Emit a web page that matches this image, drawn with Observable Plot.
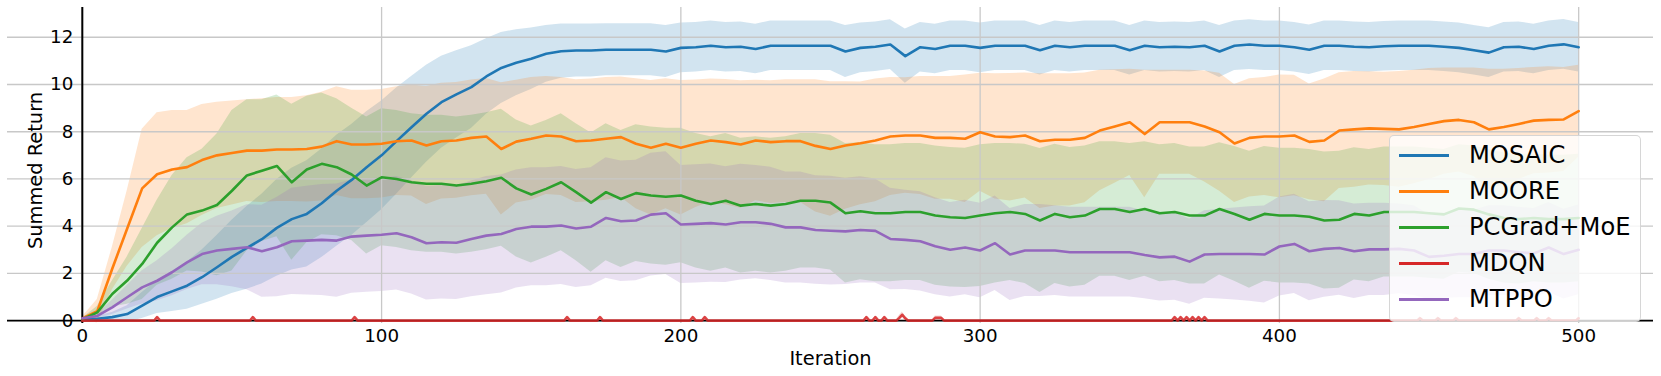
<!DOCTYPE html>
<html><head><meta charset="utf-8">
<script src="https://cdn.jsdelivr.net/npm/d3@7"></script>
<script src="https://cdn.jsdelivr.net/npm/@observablehq/plot@0.6"></script>
<style>
body{margin:0;background:#fff;}
#wrap{position:relative;width:1661px;height:376px;font-family:"DejaVu Sans",sans-serif;}
#legend{position:absolute;left:1389px;top:135px;width:252px;height:187px;box-sizing:border-box;background:rgba(255,255,255,0.8);border:1px solid rgba(204,204,204,0.8);border-radius:5px;}
.sw{position:absolute;left:9px;width:50px;height:3px;}
.lbl{position:absolute;left:79px;font-size:24.2px;line-height:30px;height:30px;white-space:nowrap;color:#000;}
</style></head>
<body><div id="wrap"></div>
<script>
const iters = [0,5,10,15,20,25,30,35,40,45,50,55,60,65,70,75,80,85,90,95,100,105,110,115,120,125,130,135,140,145,150,155,160,165,170,175,180,185,190,195,200,205,210,215,220,225,230,235,240,245,250,255,260,265,270,275,280,285,290,295,300,305,310,315,320,325,330,335,340,345,350,355,360,365,370,375,380,385,390,395,400,405,410,415,420,425,430,435,440,445,450,455,460,465,470,475,480,485,490,495,500];

const mosaicMean = [0.05,0.08,0.15,0.28,0.64,1.0,1.24,1.48,1.84,2.26,
2.7,3.08,3.45,3.93,4.3,4.52,4.97,5.5,5.96,6.5,
7.0,7.6,8.19,8.76,9.25,9.58,9.89,10.34,10.7,10.92,
11.09,11.3,11.41,11.44,11.44,11.47,11.47,11.47,11.47,11.4,
11.55,11.58,11.64,11.58,11.6,11.5,11.64,11.64,11.64,11.64,
11.64,11.4,11.55,11.6,11.69,11.2,11.58,11.5,11.64,11.64,
11.55,11.64,11.64,11.64,11.45,11.64,11.58,11.64,11.64,11.64,
11.45,11.64,11.58,11.6,11.58,11.64,11.4,11.64,11.69,11.64,
11.64,11.58,11.47,11.64,11.64,11.6,11.58,11.62,11.64,11.64,
11.64,11.6,11.55,11.45,11.35,11.58,11.6,11.5,11.64,11.7,
11.58];
const mosaicSd = [0.1,0.12,0.2,0.35,0.55,0.7,0.85,1.0,1.15,1.35,
1.55,1.75,1.9,2.05,2.15,2.25,2.3,2.35,2.35,2.35,
2.3,2.25,2.15,2.05,1.95,1.85,1.75,1.6,1.5,1.4,
1.3,1.2,1.15,1.12,1.12,1.1,1.1,1.1,1.1,1.1,
1.05,1.05,1.05,1.05,1.05,1.05,1.05,1.05,1.05,1.05,
1.05,1.1,1.05,1.05,1.05,1.15,1.05,1.05,1.05,1.05,
1.05,1.05,1.05,1.05,1.05,1.05,1.05,1.05,1.05,1.05,
1.05,1.05,1.05,1.05,1.05,1.05,1.1,1.05,1.05,1.05,
1.05,1.05,1.05,1.05,1.05,1.05,1.05,1.05,1.05,1.05,
1.05,1.05,1.05,1.05,1.05,1.05,1.05,1.05,1.05,1.05,
1.05];

const mooreMean = [0.1,0.4,2.2,3.9,5.6,6.2,6.4,6.5,6.8,7.0,
7.1,7.2,7.2,7.25,7.25,7.27,7.37,7.6,7.46,7.46,
7.49,7.6,7.63,7.42,7.6,7.63,7.74,7.8,7.27,7.58,
7.7,7.84,7.8,7.6,7.63,7.7,7.77,7.49,7.32,7.49,
7.32,7.49,7.63,7.56,7.46,7.63,7.56,7.6,7.6,7.4,
7.27,7.42,7.51,7.63,7.8,7.84,7.84,7.74,7.74,7.7,
7.98,7.8,7.77,7.84,7.6,7.66,7.66,7.74,8.05,8.22,
8.4,7.9,8.4,8.4,8.4,8.22,7.98,7.5,7.74,7.8,
7.8,7.84,7.57,7.63,8.05,8.1,8.14,8.12,8.1,8.2,
8.33,8.45,8.5,8.4,8.1,8.2,8.33,8.47,8.5,8.52,
8.87];
const mooreSd = [0.05,0.5,0.9,1.6,2.5,2.6,2.5,2.4,2.35,2.25,
2.2,2.15,2.2,2.2,2.2,2.25,2.3,2.3,2.3,2.3,
2.3,2.3,2.35,2.5,2.45,2.45,2.45,2.45,2.8,2.6,
2.6,2.5,2.5,2.6,2.6,2.6,2.55,2.75,2.85,2.75,
2.85,2.7,2.6,2.65,2.7,2.55,2.6,2.6,2.6,2.8,
2.85,2.7,2.6,2.6,2.5,2.45,2.5,2.6,2.6,2.7,
2.5,2.65,2.7,2.65,2.85,2.8,2.8,2.75,2.55,2.4,
2.25,2.7,2.2,2.2,2.2,2.35,2.5,2.5,2.5,2.5,
2.6,2.55,2.45,2.6,2.45,2.45,2.4,2.4,2.45,2.4,
2.35,2.25,2.2,2.3,2.55,2.45,2.35,2.25,2.25,2.2,
1.95];

const pcgradMean = [0.05,0.35,1.13,1.7,2.4,3.3,3.95,4.5,4.66,4.9,
5.5,6.15,6.35,6.55,5.86,6.4,6.64,6.5,6.19,5.72,
6.07,6.0,5.86,5.8,5.8,5.72,5.8,5.9,6.05,5.6,
5.34,5.58,5.86,5.44,5.0,5.44,5.15,5.4,5.3,5.25,
5.3,5.08,4.94,5.08,4.87,4.94,4.87,4.94,5.08,5.08,
5.0,4.55,4.63,4.55,4.55,4.6,4.6,4.45,4.38,4.35,
4.45,4.55,4.6,4.52,4.24,4.52,4.38,4.45,4.73,4.73,
4.6,4.73,4.55,4.6,4.45,4.45,4.73,4.52,4.27,4.52,
4.45,4.45,4.4,4.24,4.27,4.52,4.45,4.6,4.6,4.6,
4.55,4.5,4.75,4.7,4.5,4.35,4.3,4.35,4.3,4.3,
4.35];
const pcgradSd = [0.05,0.25,0.55,1.0,1.5,1.8,2.2,2.4,2.6,3.0,
3.4,3.2,3.0,3.0,3.3,3.1,3.0,2.9,2.8,2.9,
2.9,2.9,2.9,2.9,2.9,2.9,2.9,2.9,2.9,2.9,
2.9,2.9,2.9,2.9,2.95,2.9,2.9,2.9,2.9,2.9,
2.85,2.85,2.85,2.85,2.85,2.85,2.85,2.85,2.85,2.85,
2.85,2.95,2.9,2.9,2.9,2.9,2.9,2.95,2.95,2.95,
3.0,2.95,2.9,2.95,3.05,2.95,2.95,2.95,2.85,2.85,
2.9,2.85,2.9,2.9,2.9,2.9,2.8,2.85,2.9,2.85,
2.85,2.85,2.85,2.9,2.9,2.8,2.8,2.75,2.75,2.75,
2.75,2.75,2.7,2.7,2.75,2.75,2.75,2.7,2.7,2.7,
2.7];

const mtppoMean = [0.1,0.2,0.56,0.99,1.41,1.69,2.05,2.47,2.82,2.97,
3.04,3.11,2.94,3.11,3.36,3.39,3.42,3.39,3.56,3.6,
3.64,3.7,3.53,3.28,3.32,3.3,3.46,3.6,3.67,3.88,
3.98,3.98,4.03,3.9,3.98,4.35,4.21,4.24,4.49,4.55,
4.07,4.1,4.13,4.07,4.17,4.17,4.1,3.95,3.95,3.84,
3.81,3.78,3.84,3.8,3.46,3.42,3.36,3.15,3.0,3.1,
2.97,3.28,2.8,2.97,2.97,2.97,2.9,2.9,2.9,2.9,
2.9,2.78,2.68,2.71,2.5,2.8,2.82,2.82,2.82,2.8,
3.14,3.25,2.94,3.04,3.08,2.94,3.02,3.02,3.04,2.97,
2.7,2.75,2.82,2.82,2.97,2.97,2.9,2.85,3.1,2.82,
3.0];
const mtppoSd = [0.05,0.1,0.3,0.5,0.7,0.85,1.0,1.15,1.3,1.45,
1.6,1.8,1.95,2.1,2.25,2.3,2.35,2.4,2.4,2.4,
2.4,2.4,2.4,2.4,2.4,2.4,2.45,2.5,2.5,2.5,
2.5,2.5,2.5,2.5,2.5,2.55,2.55,2.55,2.6,2.6,
2.5,2.5,2.5,2.45,2.45,2.4,2.4,2.35,2.35,2.3,
2.3,2.25,2.25,2.2,2.15,2.1,2.1,2.05,2.0,2.0,
2.0,2.0,1.95,1.95,1.95,1.9,1.9,1.9,1.9,1.9,
1.9,1.85,1.85,1.85,1.8,1.85,1.9,1.95,2.0,2.05,
2.1,2.1,2.1,2.05,2.0,2.0,1.95,1.95,1.9,1.9,
1.8,1.8,1.85,1.85,1.9,1.9,1.9,1.9,1.9,1.9,
1.9];

const mdqnIter = [0,24,25,26,56,57,58,90,91,92,161,162,163,172,173,174,203,204,205,207,208,209,
261,262,263,264,265,266,267,268,269,272,273,274,275,276,284,285,286,287,288,
364,365,366,367,368,369,370,371,372,373,374,375,376,
446,447,448,452,453,454,458,459,460,479,480,481,485,486,487,489,490,491,499,500];
const mdqnMean = [0,0,0.15,0,0,0.15,0,0,0.15,0,0,0.15,0,0,0.15,0,0,0.15,0,0,0.15,0,
0,0.15,0,0,0.15,0,0,0.15,0,0,0.12,0.25,0.1,0,0,0.12,0.12,0.12,0,
0,0.15,0,0.15,0,0.15,0,0.15,0,0.15,0,0.15,0,
0,0.1,0,0,0.1,0,0,0.1,0,0,0.1,0,0,0.1,0,0,0.1,0,0,0.1];
const mdqnSd = [0.02,0.02,0.05,0.02,0.02,0.05,0.02,0.02,0.05,0.02,0.02,0.05,0.02,0.02,0.05,0.02,0.02,0.05,0.02,0.02,0.05,0.02,
0.02,0.05,0.02,0.02,0.05,0.02,0.02,0.05,0.02,0.03,0.1,0.12,0.08,0.03,0.03,0.08,0.08,0.08,0.03,
0.02,0.05,0.02,0.05,0.02,0.05,0.02,0.05,0.02,0.05,0.02,0.05,0.02,
0.02,0.08,0.02,0.02,0.08,0.02,0.02,0.08,0.02,0.02,0.08,0.02,0.02,0.08,0.02,0.02,0.08,0.02,0.02,0.08];

const methods = ["MOSAIC","MOORE","PCGrad+MoE","MDQN","MTPPO"];
const colors = ["#1f77b4","#ff7f0e","#2ca02c","#d62728","#9467bd"];
const xTicks = [0,100,200,300,400,500];
const yTicks = [0,2,4,6,8,10,12];
const xLabel = "Iteration";
const yLabel = "Summed Return";

function rows(xs, m, s) {
  return xs.map((x, i) => ({x, y: m[i], lo: m[i] - s[i], hi: m[i] + s[i]}));
}
const series = [
  rows(iters, mosaicMean, mosaicSd),
  rows(iters, mooreMean, mooreSd),
  rows(iters, pcgradMean, pcgradSd),
  rows(mdqnIter, mdqnMean, mdqnSd),
  rows(iters, mtppoMean, mtppoSd)
];

const font = "DejaVu Sans";
const chart = Plot.plot({
  width: 1661, height: 376,
  marginLeft: 7, marginRight: 8, marginTop: 7, marginBottom: 53,
  x: {domain: [-25, 525], axis: null},
  y: {domain: [-0.12, 13.26], axis: null},
  style: {fontFamily: font, background: "white", overflow: "visible"},
  marks: [
    ...series.map((d, i) => Plot.areaY(d, {x: "x", y1: "lo", y2: "hi", fill: colors[i], fillOpacity: 0.2})),
    Plot.ruleY(yTicks, {stroke: "#c8c8c8", strokeWidth: 1.3}),
    Plot.ruleX(xTicks, {stroke: "#c8c8c8", strokeWidth: 1.3}),
    Plot.ruleX([0], {stroke: "#000", strokeWidth: 2}),
    Plot.ruleY([0], {stroke: "#000", strokeWidth: 1.6}),
    ...series.map((d, i) => Plot.line(d, {x: "x", y: "y", stroke: colors[i], strokeWidth: 2.6, strokeOpacity: i === 3 ? 0.85 : 1})),
    Plot.text(yTicks, {x: 0, y: d => d, text: d => String(d), textAnchor: "end", dx: -9, fontSize: 18.3, fill: "#000"}),
    Plot.text(xTicks, {x: d => d, y: 0, text: d => String(d), textAnchor: "middle", lineAnchor: "middle", dy: 15, fontSize: 18.3, fill: "#000"}),
    Plot.text([xLabel], {frameAnchor: "bottom", text: d => d, textAnchor: "middle", lineAnchor: "middle", dy: 35, fontSize: 19.4, fill: "#000"}),
    Plot.text([yLabel], {frameAnchor: "left", text: d => d, textAnchor: "middle", lineAnchor: "middle", rotate: -90, dx: 28, dy: 5, fontSize: 19.4, fill: "#000"})
  ]
});
const wrap = document.getElementById("wrap");
wrap.appendChild(chart);

const legend = document.createElement("div");
legend.id = "legend";
methods.forEach((m, i) => {
  const cy = 19 + i * 36.1;
  const sw = document.createElement("div");
  sw.className = "sw";
  sw.style.top = (cy - 1.5) + "px";
  sw.style.background = colors[i];
  legend.appendChild(sw);
  const lb = document.createElement("div");
  lb.className = "lbl";
  lb.style.top = (cy - 15) + "px";
  lb.textContent = m;
  legend.appendChild(lb);
});
wrap.appendChild(legend);
</script></body></html>
